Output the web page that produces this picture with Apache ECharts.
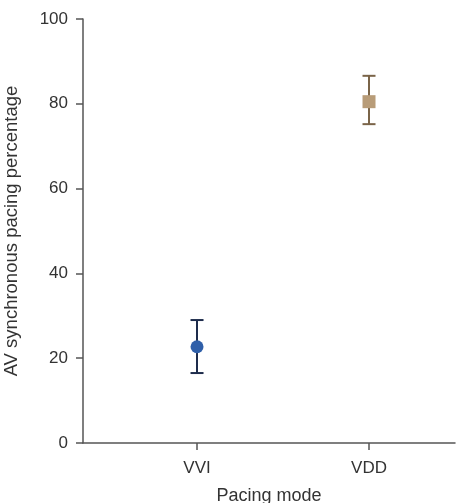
<!DOCTYPE html>
<html><head><meta charset="utf-8">
<script src="https://cdn.jsdelivr.net/npm/echarts@6/dist/echarts.min.js"></script>
<style>html,body{margin:0;padding:0;background:#fff}#c{width:456px;height:503px}</style>
</head><body><div id="c"></div>
<script>
const categories = ['VVI', 'VDD'];
const positions = [1, 2];
const means = [22.7, 80.5];
const lows = [16.5, 75.2];
const highs = [29.0, 86.6];
const yTicks = [0, 20, 40, 60, 80, 100];

const markerColors = ['#2f5fa9', '#b89c78'];
const barColors = ['#1e2c4c', '#7a6448'];

const chart = echarts.init(document.getElementById('c'));
const fontFamily = 'Liberation Sans, Arial, sans-serif';

function errSeries(i) {
  return {
    type: 'custom',
    data: [[positions[i], lows[i], highs[i]]],
    renderItem: function (params, api) {
      const x = api.coord([api.value(0), api.value(1)])[0];
      const yl = api.coord([api.value(0), api.value(1)])[1];
      const yh = api.coord([api.value(0), api.value(2)])[1];
      const hw = 6.5;
      const style = { stroke: barColors[i], lineWidth: 2 };
      return {
        type: 'group',
        children: [
          { type: 'line', shape: { x1: x, y1: yl, x2: x, y2: yh }, style: style },
          { type: 'line', shape: { x1: x - hw, y1: yl, x2: x + hw, y2: yl }, style: style },
          { type: 'line', shape: { x1: x - hw, y1: yh, x2: x + hw, y2: yh }, style: style }
        ]
      };
    },
    z: 2
  };
}

chart.setOption({
  animation: false,
  grid: { left: 83, right: 1, top: 19, bottom: 60, containLabel: false, outerBoundsMode: 'none' },
  xAxis: {
    type: 'value', min: 0.337, max: 2.5,
    name: 'Pacing mode', nameLocation: 'middle', nameGap: 44,
    nameTextStyle: { fontSize: 18, color: '#333', fontFamily: fontFamily },
    axisLine: { lineStyle: { color: '#555', width: 1.5 } },
    axisTick: { show: true, length: 7, customValues: positions, lineStyle: { color: '#555', width: 1.5 } },
    axisLabel: { customValues: positions, fontSize: 17, color: '#333', fontFamily: fontFamily, margin: 17,
      formatter: function (v) { const i = positions.indexOf(v); return i >= 0 ? categories[i] : ''; } },
    splitLine: { show: false }
  },
  yAxis: {
    type: 'value', min: 0, max: 100, interval: 20,
    name: 'AV synchronous pacing percentage', nameLocation: 'middle', nameGap: 62,
    nameTextStyle: { fontSize: 18.5, color: '#333', fontFamily: fontFamily },
    axisLine: { show: true, lineStyle: { color: '#555', width: 1.5 } },
    axisTick: { show: true, length: 7, lineStyle: { color: '#555', width: 1.5 } },
    axisLabel: { fontSize: 17, color: '#333', fontFamily: fontFamily, margin: 15 },
    splitLine: { show: false }
  },
  series: [
    errSeries(0), errSeries(1),
    { type: 'scatter', data: [[positions[0], means[0]]], symbol: 'circle', symbolSize: 13,
      itemStyle: { color: markerColors[0], opacity: 1 }, z: 3 },
    { type: 'scatter', data: [[positions[1], means[1]]], symbol: 'rect', symbolSize: 13,
      itemStyle: { color: markerColors[1], opacity: 1 }, z: 3 }
  ]
});
</script></body></html>
